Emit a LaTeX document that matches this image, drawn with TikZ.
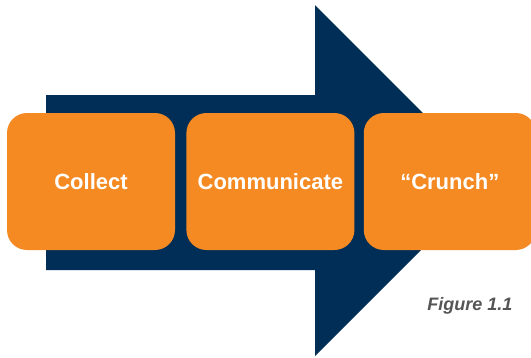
\documentclass[tikz,border=0pt]{standalone}
\usepackage{fontspec}
\setmainfont{Liberation Sans}
\usepackage{tikz}
\usetikzlibrary{positioning}
\definecolor{navy}{RGB}{0,46,86}
\definecolor{orangebox}{RGB}{245,138,35}
\definecolor{labelgray}{RGB}{85,85,85}
\tikzset{stage/.style={fill=orangebox,rounded corners=20pt,minimum width=168pt,minimum height=137pt,inner sep=0pt,text=white,font=\fontsize{22}{26}\selectfont\bfseries}}

\begin{document}
\begin{tikzpicture}[x=1pt,y=-1pt]
\useasboundingbox (0,0) rectangle (531,357);
\fill[navy] (46,95) -- (315,95) -- (315,5) -- (490.5,180.5) -- (315,356) -- (315,270) -- (46,270) -- cycle;
\node[stage] (collect) at (91,181.5) {Collect};
\node[stage,right=11pt of collect] (communicate) {Communicate};
\node[stage,right=9pt of communicate,minimum width=172pt] (crunch) {``Crunch''};
\node[text=labelgray,font=\fontsize{18}{22}\selectfont\bfseries\itshape] (figlabel) at (470,306) {Figure 1.1};
\end{tikzpicture}
\end{document}
